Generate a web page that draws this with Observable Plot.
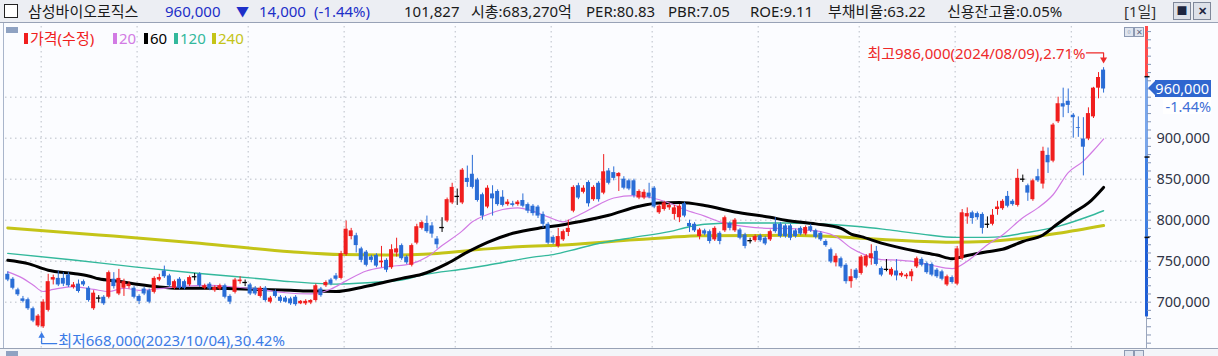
<!DOCTYPE html>
<html><head><meta charset="utf-8">
<script src="https://cdn.jsdelivr.net/npm/d3@7"></script>
<script src="https://cdn.jsdelivr.net/npm/@observablehq/plot@0.6"></script>
<style>
html,body{margin:0;padding:0}
body{width:1218px;height:356px;overflow:hidden;background:#fbfcff;position:relative;font-family:"Noto Sans","Noto Sans CJK KR",sans-serif}
#hdr{position:absolute;left:0;top:0;width:1218px;height:23px;background:#eceef3;border-bottom:1px solid #98a2b6;box-sizing:border-box}
.t{position:absolute;top:1px;font-size:15px;line-height:20px;white-space:pre;color:#1a1a1a}
.b{color:#1d2fc8}
.lg{position:absolute;top:29px;font-size:15px;line-height:18px;white-space:pre}
.mk{position:absolute;top:33px;width:4px;height:11px}
#chart{position:absolute;left:0;top:22px}
.ic{position:absolute;width:8px;height:8px;border:1px solid #8d9ab3;background:#dfe5ef;font-size:8px;line-height:8px;text-align:center;color:#5d6a85}
</style></head>
<body>
<div id="hdr"></div>
<div id="chart"></div>
<script>
// ---- header / legend texts ----
const stockName = "삼성바이오로직스";
const lastPriceText = "960,000";
const changeText = ["▼", "14,000", "(-1.44%)"];
const infoTexts = ["101,827", "시총:683,270억", "PER:80.83", "PBR:7.05", "ROE:9.11", "부채비율:63.22", "신용잔고율:0.05%"];
const periodText = "[1일]";
const legendNames = ["가격(수정)", "20", "60", "120", "240"];
const legendColors = ["#f01e1e", "#d27be4", "#000000", "#33b89c", "#c4c418"];

// ---- daily candles (thousand won), 2023-09-19 .. 2024-08-09 ----
const open = [734,728,715,704,703,692,671,670,690,727,729,729,733,718,722,725,717,692,705,706,
706,728,710,717,719,717,707,716,714,712,727,738,732,717,728,725,721,731,734,717,
722,714,716,720,707,712,725,724,721,717,707,717,700,713,706,705,704,706,698,698,
699,702,716,720,727,732,729,758,780,781,765,761,755,757,748,751,742,760,769,755,
745,772,790,796,793,777,791,799,821,829,821,851,856,849,831,816,832,835,828,819,
820,819,824,819,817,816,807,795,779,768,776,785,811,842,834,846,825,845,833,860,
858,853,850,848,848,827,827,833,839,809,813,815,807,803,820,796,795,780,787,786,
776,784,787,796,787,788,782,775,775,781,778,776,795,795,793,793,787,790,783,792,
787,784,774,764,748,753,745,725,739,735,744,753,762,741,740,733,738,732,731,731,
743,752,747,746,739,737,721,730,722,753,804,809,808,807,795,795,813,814,829,823,
818,850,842,825,853,844,879,872,920,942,945,928,913,899,899,926,961,983];
const high = [737,730,717,707,705,694,685,703,734,733,738,736,736,724,727,727,719,714,708,708,
738,736,740,728,725,719,709,718,716,731,734,744,734,727,730,727,732,735,736,722,
724,720,722,722,709,729,731,727,723,719,719,719,707,715,708,707,706,708,702,703,
703,722,718,726,729,735,762,799,790,784,767,763,757,759,768,753,770,778,771,757,
771,795,799,805,797,780,803,827,845,838,863,866,879,851,833,842,842,837,836,825,
823,824,832,821,819,818,810,797,781,790,788,800,842,845,842,848,842,847,880,863,
865,858,853,850,850,837,837,845,841,819,823,820,818,819,822,800,797,790,789,788,
792,786,805,798,802,790,784,778,782,783,780,788,803,797,795,795,789,792,793,795,
789,786,776,766,759,755,747,740,741,757,758,770,768,743,752,742,752,737,735,740,
755,754,749,748,741,739,733,732,768,813,815,811,810,809,804,813,823,825,835,825,
862,855,844,850,862,889,888,918,950,961,960,930,926,925,937,962,980,986];
const low = [725,715,707,699,690,675,669,668,688,721,719,719,718,716,711,719,700,690,699,696,
704,716,708,707,716,704,697,708,698,710,725,729,718,715,715,715,719,726,718,715,
714,712,714,704,697,710,722,719,708,708,705,700,698,705,699,699,696,695,697,696,
697,700,706,718,720,726,727,756,776,760,748,743,748,742,742,736,740,755,751,746,
743,770,788,784,778,765,785,797,819,818,819,840,838,822,800,814,805,817,816,817,
816,817,815,808,805,802,790,770,770,766,774,780,809,825,832,816,823,822,831,843,
848,835,837,836,827,825,825,826,814,807,811,812,800,797,803,785,785,776,781,771,
774,770,785,787,785,776,765,771,773,773,769,774,784,778,778,775,778,781,781,785,
777,774,767,747,743,741,722,717,727,733,742,745,744,731,737,731,726,730,728,725,
741,743,734,731,729,726,719,722,720,751,795,795,800,783,790,793,806,812,815,817,
816,846,823,823,846,838,857,870,918,925,930,900,901,854,897,924,948,955];
const close = [727,717,709,701,692,677,683,700,725,730,721,722,720,721,713,721,702,711,705,698,
736,719,729,725,722,706,701,710,700,729,730,731,720,725,717,717,730,731,720,720,
716,718,720,706,700,727,727,724,710,710,717,702,705,707,701,700,698,697,701,701,
702,720,708,724,722,728,759,789,787,769,751,745,751,744,750,739,764,765,753,748,
769,792,797,786,783,770,791,825,840,829,861,846,840,824,805,839,826,819,818,822,
818,822,817,811,808,805,795,772,772,780,786,790,840,827,839,820,840,825,859,845,
851,857,839,838,830,835,834,828,816,817,821,818,815,817,805,792,787,788,783,774,
790,774,803,790,800,778,768,775,780,775,771,786,786,780,780,778,780,783,791,787,
779,776,769,749,756,743,725,731,729,755,756,759,746,733,740,740,732,735,733,737,
753,745,736,733,731,728,731,724,765,809,808,802,803,790,795,806,816,823,817,819,
851,850,833,848,848,884,870,916,942,938,940,925,912,889,930,961,974,960];

// ---- moving averages: [candle index, thousand won] ----
const ma20 = [[0,737],[3,729],[5,721],[7,713],[9,715.5],[13,719],[17,715.5],[20,713],[23,717],[26,714.5],[30,716.5],[35,719.5],[40,720.5],[45,718.5],[50,715.5],[55,711.5],[60,710],[64,716],[67,726],[71,738],[75,743],[80,747],[83,755],[86,769],[90,787],[92,798],[95,807],[98,813],[101,815],[104,811],[107,804],[110,798],[112,803],[114,809],[117,819],[120,827],[124,830],[127,828],[131,821],[134,813],[138,805],[141,798],[144,794],[148,791],[151,790],[154,790],[158,788],[161,786],[164,780],[167,766],[170,757],[173,752],[177,751],[180,749],[183,745],[187,741],[190,750],[194,770],[197,782],[201,803],[204,815],[207,831],[210,858],[213,872],[215,885],[217,899]];
const ma60 = [[0,751],[4,747],[8,739],[13,735],[16,732],[18,728.5],[22,725.5],[26,721.5],[30,718.5],[34,717],[40,717],[45,716.5],[50,715.5],[56,714.5],[60,713.5],[65,713],[70,718],[75,725],[78,729],[82,734],[87,747],[91,761],[95,773],[100,784],[106,791],[110,794.5],[113,798],[119,806],[125,817],[129,821],[133,821.5],[138,818],[144,810],[151,803.5],[154,800],[160,795.5],[165,790],[167,783],[169,780],[173,772],[180,762],[184,757.5],[187,753],[190,757],[194,761.5],[197,764.5],[201,774],[205,782],[208,796],[211,809],[214,821],[217,840]];
const ma120 = [[0,759.5],[13,751.5],[25,743],[38,735],[51,728],[56,725],[65,722],[72,724],[78,727],[82,733],[91,741],[95,745],[104,755],[108,758],[113,765.5],[117,771.5],[124,779],[131,786],[135,792],[138,795],[145,796.5],[154,796.5],[164,794.5],[169,792],[174,788.5],[181,783],[188,779],[194,779],[197,780],[201,784],[208,792.5],[214,804.5],[217,811.5]];
const ma240 = [[0,790.5],[18,782],[38,772],[56,761.5],[66,758],[75,757.5],[85,759.5],[95,765],[101,767.5],[111,770],[124,776],[131,779],[137,781],[154,781.5],[169,778],[174,776],[187,773],[194,774],[201,778],[208,784],[217,793.5]];

// ---- axis / grid / annotation values ----
const gridPrices = [700000, 750000, 800000, 850000, 900000, 950000];
const axisLabels = [700000, 750000, 800000, 850000, 900000];
const monthStarts = [7, 26, 48, 67, 89, 108, 128, 149, 169, 188, 211];
const stripBreaks = [975000, 877000, 779000, 682000];
const stripColors = ["#ff4b4b", "#7aa6ea", "#3f7fe2", "#1f5fd6"];
const hiPoint = {i: 217, p: 986000, date: "2024/08/09", pct: "2.71%"};
const loPoint = {i: 7, p: 668000, date: "2023/10/04", pct: "30.42%"};
const lastClose = 960000, lastPct = "-1.44%";

const RED = "#f01e1e", BLUE = "#2a6dd6";
const fmt = d3.format(",");

// ---- header ----
const hdr = document.getElementById("hdr");
function put(parent, cls, left, txt, extra) {
  const d = document.createElement("div");
  d.className = cls; d.style.left = left + "px"; d.textContent = txt;
  if (extra) Object.assign(d.style, extra);
  parent.appendChild(d); return d;
}
const cb = document.createElement("div");
Object.assign(cb.style, {position:"absolute", left:"4px", top:"4px", width:"12px", height:"12px", border:"1px solid #222", background:"#fff"});
hdr.appendChild(cb);
put(hdr, "t", 28, stockName);
put(hdr, "t b", 165, lastPriceText);
put(hdr, "t b", 236, changeText[0], {fontSize:"13px"});
put(hdr, "t b", 259, changeText[1]);
put(hdr, "t b", 314, changeText[2]);
const infoX = [404, 471, 586, 668, 750, 828, 947];
infoTexts.forEach((s, k) => put(hdr, "t", infoX[k], s));
put(hdr, "t", 1124, periodText, {color:"#333"});
[["1173px","■"],["1193px","✕"]].forEach(([l, g]) => {
  const d = document.createElement("div");
  Object.assign(d.style, {position:"absolute", left:l, top:"2px", width:"16px", height:"16px", border:"1px solid #7f889a", background:"#dde1e9", fontSize:"11px", lineHeight:"16px", textAlign:"center", color:"#1d2540", fontWeight:"bold"});
  d.textContent = g; hdr.appendChild(d);
});

// ---- legend ----
const lgX = [24, 113, 144, 174, 212];
legendNames.forEach((s, k) => {
  const m = document.createElement("div");
  m.className = "mk"; m.style.left = lgX[k] + "px"; m.style.background = legendColors[k];
  document.body.appendChild(m);
  put(document.body, "lg", lgX[k] + 6, s, {color: legendColors[k]});
});
const gsq = document.createElement("div");
Object.assign(gsq.style, {position:"absolute", left:"6px", top:"27px", width:"12px", height:"6px", background:"#8fa2c2"});
document.body.appendChild(gsq);

// ---- chart ----
const rows = d3.range(open.length).map(i => ({i, o: open[i]*1e3, h: high[i]*1e3, l: low[i]*1e3, c: close[i]*1e3}));
const col = d => d.c > d.o ? RED : d.c < d.o ? BLUE : "#000";
const xDomain = [-0.455, 225.5];
const yDomain = [643500, 1036200];
const maLine = (arr, stroke, w) => Plot.line(arr, {x: d => d[0], y: d => d[1]*1e3, stroke, strokeWidth: w, curve: "monotone-x"});
const segs = [yDomain[1], ...stripBreaks].slice(0, -1).map((v, k) => ({y1: v, y2: stripBreaks[k], c: stripColors[k]}));
const hiLabel = `최고${fmt(hiPoint.p)}(${hiPoint.date}),${hiPoint.pct}`;
const loLabel = `최저${fmt(loPoint.p)}(${loPoint.date}),${loPoint.pct}`;
const HIC = "#ee2a2a", LOC = "#3b7be6";

const chart = Plot.plot({
  width: 1218, height: 334,
  marginLeft: 5, marginRight: 72, marginTop: 4, marginBottom: 8,
  style: {background: "transparent", fontFamily: '"Noto Sans","Noto Sans CJK KR",sans-serif', fontSize: "14px", overflow: "visible"},
  x: {domain: xDomain, axis: null},
  y: {domain: yDomain, axis: null},
  marks: [
    Plot.ruleY(gridPrices, {stroke: "#b9bec8", strokeDasharray: "1.5,3.5"}),
    Plot.ruleX(monthStarts, {dx: -2, stroke: "#b9bec8", strokeDasharray: "1.5,3.5"}),
    maLine(ma240, "#c4c418", 3),
    maLine(ma120, "#33b89c", 1.4),
    maLine(ma60, "#000", 3),
    maLine(ma20, "#d27be4", 1.2),
    Plot.ruleX(rows, {x: "i", y1: "l", y2: "h", stroke: col, strokeWidth: 1}),
    Plot.rect(rows.filter(d => d.c !== d.o), {x1: d => d.i - 0.4, x2: d => d.i + 0.4, y1: "o", y2: "c", fill: col}),
    Plot.ruleY(rows.filter(d => d.c === d.o), {y: "c", x1: d => d.i - 0.45, x2: d => d.i + 0.45, stroke: "#000", strokeWidth: 1.3}),
    // right axis
    Plot.ruleX([xDomain[1]], {stroke: "#9aa6bd"}),
    Plot.ruleX(segs, {x: () => xDomain[1], y1: "y1", y2: "y2", stroke: "c", strokeWidth: 3}),
    Plot.axisY({anchor: "right", ticks: d3.range(650000, 1036200, 10000), tickSize: 4, tickFormat: () => "", label: null, stroke: "#8494b3"}),
    Plot.ruleY(stripBreaks.slice(0, 3), {x1: xDomain[1] - 0.3, x2: xDomain[1] + 0.7, stroke: "#111", strokeWidth: 1.5}),
    Plot.axisY({anchor: "right", ticks: axisLabels, tickSize: 0, tickPadding: 10, tickFormat: fmt, label: null, color: "#2f3446", fontSize: 14.5}),
    // high annotation
    Plot.text([hiPoint], {x: "i", y: "p", text: () => hiLabel, textAnchor: "end", dx: -18, dy: -13, fill: HIC, fontSize: 15}),
    Plot.line([[-3.4, 18000], [0, 18000], [0, 11000]], {x: d => hiPoint.i + d[0], y: d => hiPoint.p + d[1], stroke: HIC, strokeWidth: 1.2}),
    Plot.dot([hiPoint], {x: "i", y: d => d.p + 10000, symbol: "triangle", rotate: 180, r: 2.6, fill: HIC}),
    // low annotation
    Plot.line([[-0.3, -9000], [-0.3, -18500], [2.7, -18500]], {x: d => loPoint.i + d[0], y: d => loPoint.p + d[1], stroke: LOC, strokeWidth: 1.2}),
    Plot.dot([loPoint], {x: d => d.i - 0.3, y: d => d.p - 9000, symbol: "triangle", r: 2.4, fill: LOC}),
    Plot.text([loPoint], {x: "i", y: "p", text: () => loLabel, textAnchor: "start", dx: 15, dy: 13, fill: LOC, fontSize: 15})
  ]
});
document.getElementById("chart").appendChild(chart);

// current price tag, positioned through the y scale
const svgTop = 22;
const yPix = chart.scale("y").apply(lastClose) + svgTop;
const tag = document.createElement("div");
Object.assign(tag.style, {position:"absolute", left:"1155px", top:(yPix - 8.5) + "px", width:"56px", height:"17px", background:"#2f66cf", color:"#fff", fontSize:"14.5px", lineHeight:"17px", textAlign:"right", paddingRight:"2px", boxSizing:"border-box"});
tag.textContent = fmt(lastClose);
document.body.appendChild(tag);
const tri = document.createElement("div");
Object.assign(tri.style, {position:"absolute", left:"1148px", top:(yPix - 7) + "px", width:0, height:0, borderTop:"7px solid transparent", borderBottom:"7px solid transparent", borderRight:"7px solid #2f66cf"});
document.body.appendChild(tri);
const pct = document.createElement("div");
Object.assign(pct.style, {position:"absolute", left:"1163px", top:(yPix + 10) + "px", width:"48px", height:"16px", background:"#fff", color:"#3f6fd6", fontSize:"14.5px", lineHeight:"16px", textAlign:"right"});
pct.textContent = lastPct;
document.body.appendChild(pct);

// frame decorations
const lb = document.createElement("div");
Object.assign(lb.style, {position:"absolute", left:"3px", top:"23px", width:"1px", height:"325px", background:"#a9b5cb"});
document.body.appendChild(lb);
const bot = document.createElement("div");
Object.assign(bot.style, {position:"absolute", left:"0", top:"348px", width:"1218px", height:"8px", background:"#f3f5f9", borderTop:"1px solid #98a2b6"});
document.body.appendChild(bot);
[[1124, 27, "▫"], [1134, 27, "✕"], [1124, 350, ""], [1134, 350, ""]].forEach(([l, t, g]) => {
  const d = document.createElement("div");
  d.className = "ic"; d.style.left = l + "px"; d.style.top = t + "px"; d.textContent = g;
  document.body.appendChild(d);
});
const bsq = document.createElement("div");
Object.assign(bsq.style, {position:"absolute", left:"6px", top:"351px", width:"12px", height:"5px", background:"#8fa2c2"});
document.body.appendChild(bsq);
</script>
</body></html>
